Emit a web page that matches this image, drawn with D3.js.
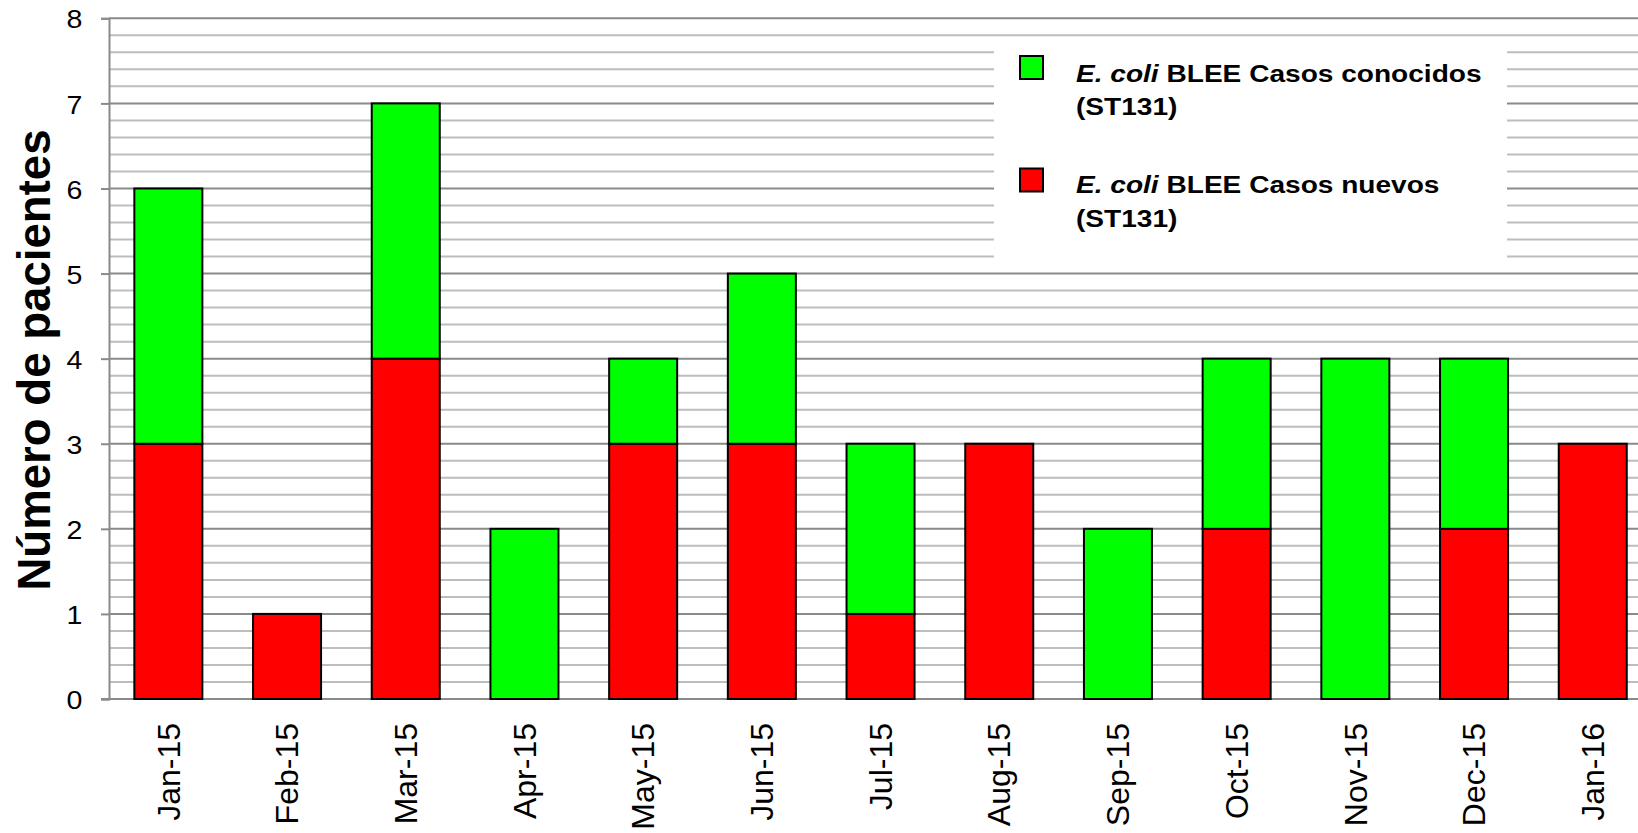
<!DOCTYPE html>
<html><head><meta charset="utf-8">
<script src="https://cdn.jsdelivr.net/npm/d3@7"></script>
<style>html,body{margin:0;padding:0;background:#fff;overflow:hidden}</style>
</head><body>
<script>
const months = ["Jan-15","Feb-15","Mar-15","Apr-15","May-15","Jun-15","Jul-15","Aug-15","Sep-15","Oct-15","Nov-15","Dec-15","Jan-16"];
const casosNuevos = [3,1,4,0,3,3,1,3,0,2,0,2,3];
const casosConocidos = [3,0,3,2,1,2,2,0,2,2,4,2,0];
const yTicks = [0,1,2,3,4,5,6,7,8];
const seriesNames = ["E. coli BLEE Casos conocidos (ST131)","E. coli BLEE Casos nuevos (ST131)"];

const W = 1638, H = 833;
const FONT = "'Liberation Sans', Arial, sans-serif";
const svg = d3.select("body").append("svg").attr("width", W).attr("height", H);

const x0 = 109, y0 = 699, yTop = 18.3;
const step = 118.7;
const x = d3.scaleBand().domain(months).range([x0, x0 + step * months.length])
  .paddingInner(0.427).paddingOuter(0.2135);
const y = d3.scaleLinear().domain([0, 8]).range([y0, yTop]);

// grid lines
const minor = d3.range(0, 8.0001, 0.2).filter(v => Math.abs(v - Math.round(v)) > 1e-6);
svg.append("g").selectAll("line").data(minor).join("line")
  .attr("x1", x0).attr("x2", W).attr("y1", d => y(d)).attr("y2", d => y(d))
  .attr("stroke", "#bdbdbd").attr("stroke-width", 2);
svg.append("g").selectAll("line").data(yTicks.filter(d => d > 0)).join("line")
  .attr("x1", x0).attr("x2", W).attr("y1", d => y(d)).attr("y2", d => y(d))
  .attr("stroke", "#8a8a8a").attr("stroke-width", 2);

// legend background (covers grid)
svg.append("rect").attr("x", 994).attr("y", 41).attr("width", 513).attr("height", 224).attr("fill", "#fff");

// y axis
const yAxis = d3.axisLeft(y).tickValues(yTicks).tickSize(8).tickPadding(19).tickFormat(d3.format("d"));
const gy = svg.append("g").attr("transform", `translate(${x0},0)`).call(yAxis);
gy.select(".domain").attr("stroke", "#8a8a8a").attr("stroke-width", 2);
gy.selectAll(".tick line").attr("stroke", "#8a8a8a").attr("stroke-width", 2);
gy.selectAll(".tick text").attr("font-family", FONT).attr("font-size", 25.5).attr("fill", "#000")
  .attr("x", 0).attr("transform", "translate(-26.5,1.5) scale(1.12,1)");

// x axis
const xAxis = d3.axisBottom(x).tickSize(0).tickPadding(0);
const gx = svg.append("g").attr("transform", `translate(0,${y0})`).call(xAxis);
gx.select(".domain").remove();
svg.append("line").attr("x1", 101).attr("x2", W).attr("y1", y0).attr("y2", y0)
  .attr("stroke", "#8a8a8a").attr("stroke-width", 2);
gx.selectAll(".tick text")
  .attr("font-family", FONT).attr("font-size", 32).attr("fill", "#000")
  .attr("text-anchor", "end")
  .attr("transform", "translate(0,24) rotate(-90)")
  .attr("x", 0).attr("y", 0).attr("dy", "0.35em");

// stacked bars
const rows = months.map((m, i) => ({month: m, nuevos: casosNuevos[i], conocidos: casosConocidos[i]}));
const stack = d3.stack().keys(["nuevos", "conocidos"])(rows);
const colors = {nuevos: "#ff0000", conocidos: "#00ff00"};
svg.append("g").selectAll("g").data(stack).join("g")
  .attr("fill", d => colors[d.key])
  .selectAll("rect").data(d => d.filter(p => p[1] - p[0] > 0)).join("rect")
  .attr("x", d => x(d.data.month)).attr("width", x.bandwidth())
  .attr("y", d => y(d[1])).attr("height", d => y(d[0]) - y(d[1]))
  .attr("stroke", "#000").attr("stroke-width", 2);

// y title
svg.append("text")
  .attr("transform", `translate(50,360) rotate(-90)`)
  .attr("text-anchor", "middle")
  .attr("font-family", FONT).attr("font-size", 45.6).attr("font-weight", "bold")
  .text("Número de pacientes");

// legend
const legendItems = [
  {color: "#00ff00", lines: [["E. coli", " BLEE Casos conocidos"], "(ST131)"], sq: 56, base: 81.7},
  {color: "#ff0000", lines: [["E. coli", " BLEE Casos nuevos"], "(ST131)"], sq: 168.5, base: 193.3}
];
const lg = svg.append("g");
legendItems.forEach(it => {
  lg.append("rect").attr("x", 1020).attr("y", it.sq).attr("width", 23).attr("height", 23)
    .attr("fill", it.color).attr("stroke", "#000").attr("stroke-width", 2);
  const t = lg.append("text").attr("transform", `translate(1076,${it.base}) scale(1.17,1)`)
    .attr("font-family", FONT).attr("font-size", 24).attr("font-weight", "bold").attr("fill", "#000");
  t.append("tspan").attr("font-style", "italic").text(it.lines[0][0]);
  t.append("tspan").text(it.lines[0][1]);
  lg.append("text").attr("transform", `translate(1076,${it.base + 33.4}) scale(1.17,1)`)
    .attr("font-family", FONT).attr("font-size", 24).attr("font-weight", "bold").attr("fill", "#000")
    .text(it.lines[1]);
});
</script>
</body></html>
